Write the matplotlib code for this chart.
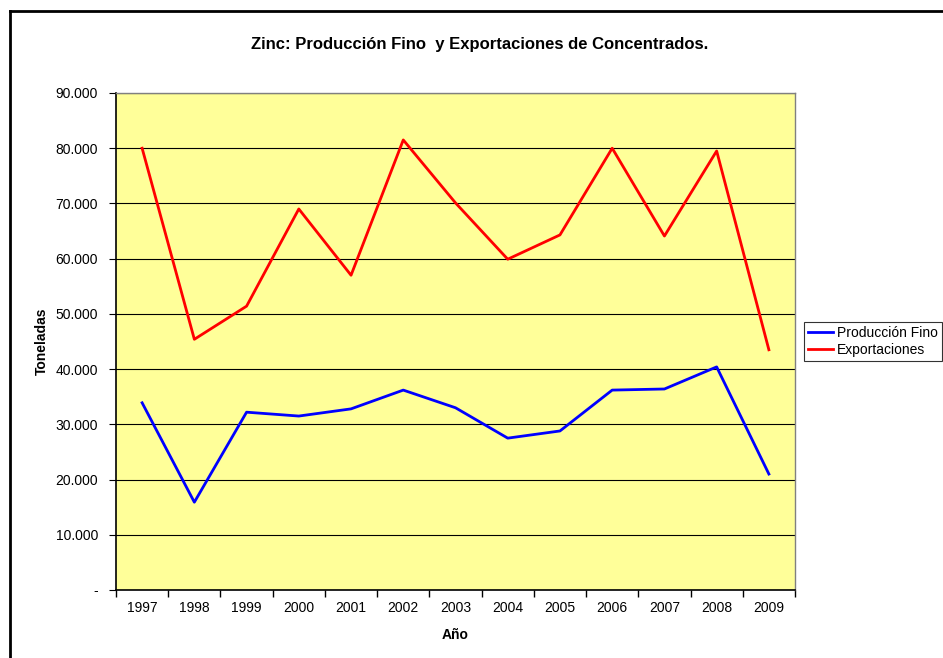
import matplotlib
matplotlib.use("Agg")
import matplotlib.pyplot as plt
from matplotlib.lines import Line2D
from matplotlib.ticker import FuncFormatter, MultipleLocator
import numpy as np

plt.rcParams['font.family'] = ['Liberation Sans', 'DejaVu Sans']

years = ["1997", "1998", "1999", "2000", "2001", "2002", "2003",
         "2004", "2005", "2006", "2007", "2008", "2009"]
produccion_fino = [33900, 15900, 32200, 31500, 32800, 36200, 33000,
                   27500, 28800, 36200, 36400, 40400, 21000]
exportaciones = [80000, 45400, 51400, 69000, 57000, 81500, 70100,
                 59900, 64300, 80000, 64100, 79500, 43500]

W, H = 943, 658
fig = plt.figure(figsize=(W / 100, H / 100), dpi=100)
ax = fig.add_axes([116 / W, 1 - 590 / H, (795 - 116) / W, (590 - 93) / H])
ax.set_facecolor('#FFFF99')

x = np.arange(len(years))
ax.plot(x, produccion_fino, color='#0000FF', lw=2, label='Producción Fino')
ax.plot(x, exportaciones, color='#FF0000', lw=2, label='Exportaciones')

ax.set_xlim(-0.5, len(years) - 0.5)
ax.set_ylim(0, 90000)
ax.yaxis.set_major_locator(MultipleLocator(10000))

def fmt(v, pos):
    if abs(v) < 1e-6:
        return '-'
    return f"{int(round(v)):,}".replace(',', '.')

ax.yaxis.set_major_formatter(FuncFormatter(fmt))
ax.set_xticks(x)
ax.set_xticklabels(years)
ax.set_xticks(np.arange(-0.5, len(years)), minor=True)
ax.tick_params(axis='x', which='major', length=0, pad=8, labelsize=10)
ax.tick_params(axis='x', which='minor', length=5, direction='out', width=1)
ax.tick_params(axis='y', length=5, direction='out', labelsize=10, pad=8)

ax.grid(axis='y', color='black', lw=0.8)
ax.set_axisbelow(True)
for s in ['left', 'bottom']:
    ax.spines[s].set_color('black')
    ax.spines[s].set_linewidth(1.2)
for s in ['top', 'right']:
    ax.spines[s].set_color('#808080')
    ax.spines[s].set_linewidth(1)

ax.set_xlabel('Año', fontsize=10, fontweight='bold', labelpad=9)
ax.set_ylabel('Toneladas', fontsize=10, fontweight='bold', labelpad=5)

fig.text(480 / W, 1 - 45 / H, 'Zinc: Producción Fino  y Exportaciones de Concentrados.',
         ha='center', va='center', fontsize=12, fontweight='bold')

leg = ax.legend(loc='center left', bbox_to_anchor=(804 / W, 1 - 341.5 / H),
                bbox_transform=fig.transFigure, frameon=True, fancybox=False,
                fontsize=10, handlelength=1.8, handletextpad=0.25,
                borderpad=0.3, labelspacing=0.2, borderaxespad=0)
leg.get_frame().set_edgecolor('black')
leg.get_frame().set_linewidth(0.8)

# outer chart frame (left and top edges visible)
fig.add_artist(Line2D([10 / W, 10 / W], [0, 1 - 11 / H], transform=fig.transFigure, color='black', lw=2))
fig.add_artist(Line2D([10 / W, 1.0], [1 - 11 / H, 1 - 11 / H], transform=fig.transFigure, color='black', lw=2))

fig.savefig('out.png', dpi=100)
